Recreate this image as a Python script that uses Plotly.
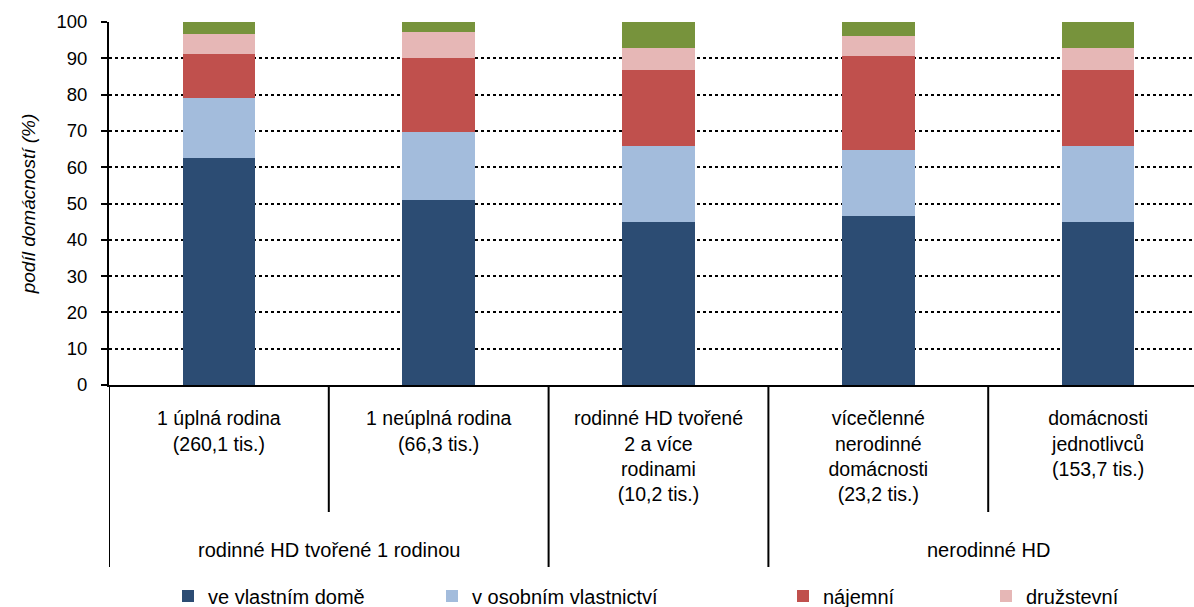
import plotly.graph_objects as go

# ---- data ----
categories = [
    "1 úplná rodina<br>(260,1 tis.)",
    "1 neúplná rodina<br>(66,3 tis.)",
    "rodinné HD tvořené<br>2 a více<br>rodinami<br>(10,2 tis.)",
    "vícečlenné<br>nerodinné<br>domácnosti<br>(23,2 tis.)",
    "domácnosti<br>jednotlivců<br>(153,7 tis.)",
]
groups = ["rodinné HD tvořené 1 rodinou", "", "nerodinné HD"]

series_names = ["ve vlastním domě", "v osobním vlastnictví", "nájemní", "družstevní", "jiný důvod"]
ve_vlastnim_dome = [62.5, 51.0, 45.0, 46.6, 45.0]
v_osobnim_vlastnictvi = [16.6, 18.7, 20.8, 18.1, 20.8]
najemni = [12.1, 20.3, 20.9, 25.8, 20.9]
druzstevni = [5.5, 7.2, 6.1, 5.6, 6.1]
jiny = [3.3, 2.8, 7.2, 3.9, 7.2]
y_ticks = [0, 10, 20, 30, 40, 50, 60, 70, 80, 90, 100]

series_values = [ve_vlastnim_dome, v_osobnim_vlastnictvi, najemni, druzstevni, jiny]
colors = ["#2C4C73", "#A3BCDC", "#C0504D", "#E6B7B6", "#77933C"]
# the reference crop only shows the first four legend entries
legend_shown = [True, True, True, True, False]

FONT = "Liberation Sans, Arial, sans-serif"

# layout geometry (pixels)
W, H = 1194, 607
L, R, T, B = 109, 0, 22, 222
plot_w = W - L - R
plot_h = H - T - B


def py(pix):
    """pixel y -> paper y"""
    return (H - B - pix) / plot_h


def px(pix):
    return (pix - L) / plot_w


fig = go.Figure()
legend_x_pix = [168, 432, 783, 986]
for i, (name, vals, col, shown) in enumerate(zip(series_names, series_values, colors, legend_shown)):
    lg = "legend" if i == 0 else f"legend{min(i, 3)+1}"
    fig.add_trace(go.Bar(
        x=categories, y=vals, name=name,
        marker=dict(color=col, line=dict(width=0)),
        width=0.33, legend=lg, showlegend=shown,
        hovertemplate="%{y}<extra>" + name + "</extra>",
    ))

fig.update_layout(
    barmode="stack",
    width=W, height=H,
    showlegend=True,
    margin=dict(l=L, r=R, t=T, b=B, autoexpand=False),
    paper_bgcolor="white", plot_bgcolor="white",
    font=dict(family=FONT, size=18, color="black"),
)

leg_common = dict(orientation="h", yanchor="middle", xanchor="left",
                  font=dict(family=FONT, size=20, color="black"),
                  bgcolor="rgba(0,0,0,0)", borderwidth=0, visible=True)
for i, xp in enumerate(legend_x_pix):
    key = "legend" if i == 0 else f"legend{i+1}"
    fig.update_layout(**{key: dict(x=px(xp), y=py(596), **leg_common)})

fig.update_xaxes(
    type="category",
    range=[-0.5, 4.5 - 14 / 219.7],
    showgrid=False,
    showline=True, linecolor="black", linewidth=2,
    ticks="", showticklabels=True,
    tickfont=dict(family=FONT, size=19.5, color="black"),
    ticklabelstandoff=15,
    automargin=False,
    fixedrange=True,
)
fig.update_yaxes(
    range=[0, 100],
    tickvals=y_ticks,
    ticks="outside", ticklen=6, tickwidth=2, tickcolor="black",
    showline=True, linecolor="black", linewidth=2,
    showgrid=True, gridcolor="black", gridwidth=1.5, griddash="dot",
    zeroline=False,
    tickfont=dict(family=FONT, size=18.5, color="black"),
    ticklabelstandoff=10,
    title=dict(text="podíl domácností (%)", standoff=16,
               font=dict(family=FONT, size=19, color="black", style="italic")),
    automargin=False,
    fixedrange=True,
)

# category separators below the axis
inner_bottom = py(512)
outer_bottom = py(567)
for xb, yb in [(-0.5, outer_bottom), (0.5, inner_bottom), (1.5, outer_bottom),
               (2.5, outer_bottom), (3.5, inner_bottom)]:
    fig.add_shape(type="line", xref="x", yref="paper", x0=xb, x1=xb, y0=0, y1=yb,
                  line=dict(color="black", width=2))

# group labels
group_pos = [0.5, 2, 3.5]
for g, xg in zip(groups, group_pos):
    if g:
        fig.add_annotation(text=g, xref="x", yref="paper", x=xg, y=py(550),
                           showarrow=False, yanchor="middle",
                           font=dict(family=FONT, size=20, color="black"))

fig.write_html("out.html", config={"displayModeBar": False},
               post_script="document.body.style.margin='0';")
